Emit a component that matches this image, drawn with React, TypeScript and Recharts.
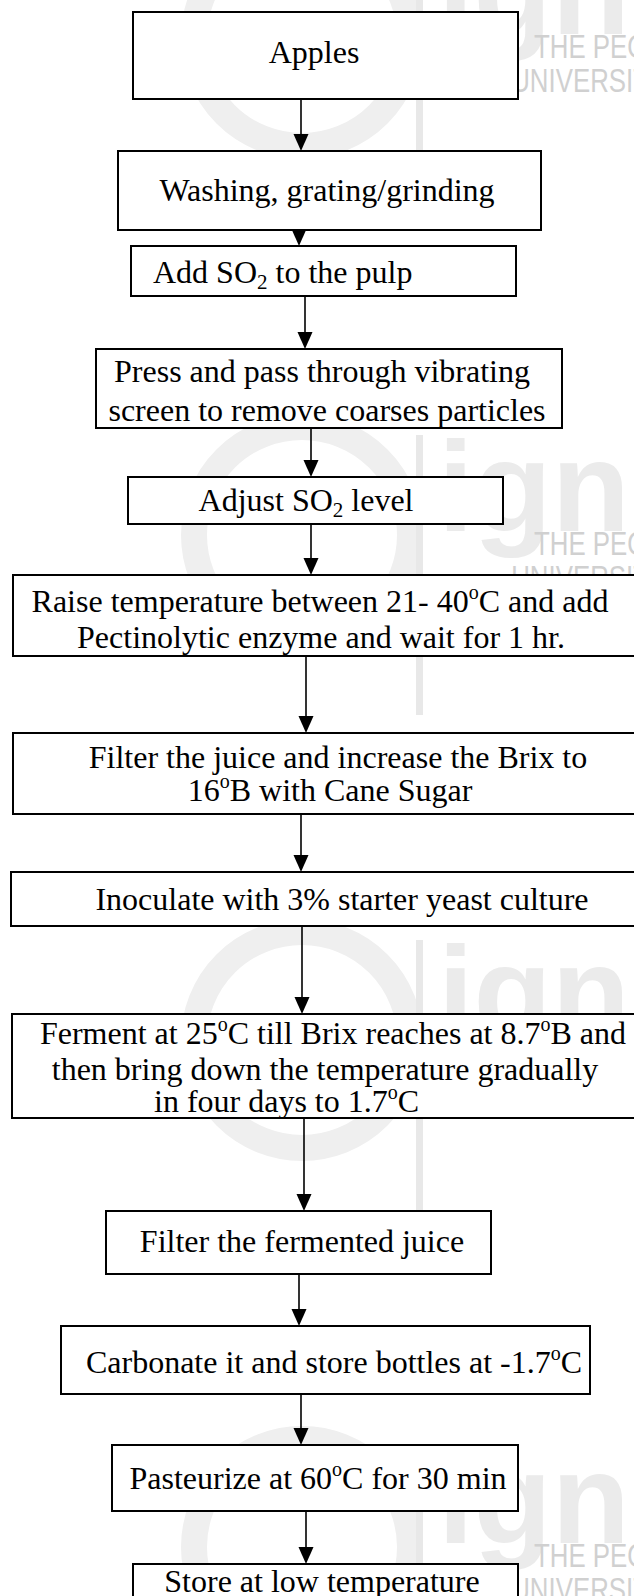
import React from 'react';
import { ScatterChart, XAxis, YAxis, ReferenceArea, ReferenceLine, Scatter } from 'recharts';

const CHART_W = 634;
const CHART_H = 1596;

// Flow-chart boxes (diagram units, same as the axis domains)
const boxNames = ['Apples', 'Washing', 'Add SO2', 'Press', 'Adjust SO2', 'Raise temp', 'Filter juice', 'Inoculate', 'Ferment', 'Filter fermented', 'Carbonate', 'Pasteurize', 'Store'];
const boxLeft = [133, 118, 131, 96, 128, 13, 13, 11, 12, 106, 61, 112, 133];
const boxRight = [518, 541, 516, 562, 503, 700, 700, 700, 700, 491, 590, 518, 518];
const boxTop = [12, 151, 246, 349, 477, 575, 733, 872, 1014, 1211, 1326, 1445, 1564];
const boxBottom = [99, 230, 296, 428, 524, 656, 814, 926, 1118, 1274, 1394, 1511, 1660];

// Arrows: from the bottom of box i to the top of box i+1
const arrowX = [301, 299, 305, 311, 311, 306, 301, 302, 304, 299, 301, 306];

// Text lines ("^o" = superscript o, "_2" = subscript 2)
const textLines = [
  'Apples',
  'Washing, grating/grinding',
  'Add SO_2 to the pulp',
  'Press and pass through vibrating',
  'screen to remove coarses particles',
  'Adjust SO_2 level',
  'Raise temperature between 21- 40^oC and add',
  'Pectinolytic enzyme and wait for 1 hr.',
  'Filter the juice and increase the Brix to',
  '16^oB with Cane Sugar',
  'Inoculate with 3% starter yeast culture',
  'Ferment at 25^oC till Brix reaches at 8.7^oB and',
  'then bring down the temperature gradually',
  'in four days to 1.7^oC',
  'Filter the fermented juice',
  'Carbonate it and store bottles at -1.7^oC',
  'Pasteurize at 60^oC for 30 min',
  'Store at low temperature',
];
const textX = [314, 327, 153, 322, 327, 306, 320, 321, 338, 330, 342, 333, 325, 154, 302, 334, 318, 322];
const textY = [63, 201, 283, 382, 421, 511, 612, 648, 768, 801, 910, 1044, 1080, 1112, 1252, 1373, 1489, 1592];
const textAnchor = ['middle', 'middle', 'start', 'middle', 'middle', 'middle', 'middle', 'middle', 'middle', 'middle', 'middle', 'middle', 'middle', 'start', 'middle', 'middle', 'middle', 'middle'];

// Watermark anchors (baseline of "THE PEOPLE'S")
const wmX = [534, 534, 534, 534];
const wmY = [58, 555, 1060, 1567];

const SERIF = "'Liberation Serif','Times New Roman',Times,serif";
const SANS = "'Liberation Sans',Arial,Helvetica,sans-serif";

function renderRich(s: string) {
  const parts = s.split(/(\^o|_2)/).filter((p) => p !== '');
  const out: React.ReactNode[] = [];
  let shift = 0;
  parts.forEach((p, i) => {
    if (p === '^o') {
      out.push(
        <tspan key={i} dy={-13 - shift} fontSize={20}>o</tspan>
      );
      shift = -13;
    } else if (p === '_2') {
      out.push(
        <tspan key={i} dy={6 - shift} fontSize={21}>2</tspan>
      );
      shift = 6;
    } else {
      out.push(
        <tspan key={i} dy={-shift}>{p}</tspan>
      );
      shift = 0;
    }
  });
  return out;
}

const TextShape = (props: any) => {
  const { cx, cy, payload } = props;
  if (cx == null || cy == null || isNaN(cx) || isNaN(cy)) return null;
  return (
    <text
      x={cx}
      y={cy}
      textAnchor={payload.anchor}
      fontFamily={SERIF}
      fontSize={32}
      fill="#000"
    >
      {renderRich(payload.label)}
    </text>
  );
};

const ArrowShape = (props: any) => {
  const { x1, y1, x2, y2 } = props;
  if (x1 == null) return null;
  const hw = 7.5;
  const hh = 17;
  return (
    <g>
      <line x1={x1} y1={y1} x2={x2} y2={y2 - hh + 2} stroke="#000" strokeWidth={1.6} />
      <polygon points={`${x2 - hw},${y2 - hh} ${x2 + hw},${y2 - hh} ${x2},${y2}`} fill="#000" />
    </g>
  );
};

const WatermarkShape = (props: any) => {
  const { cx, cy } = props;
  if (cx == null || cy == null) return null;
  const sx = `translate(${cx},0) scale(0.76,1) translate(${-cx},0)`;
  return (
    <g>
      <circle cx={cx - 232} cy={cy - 20} r={108} fill="none" stroke="#efefef" strokeWidth={26} />
      <rect x={cx - 118} y={cy - 120} width={7} height={280} fill="#e8e8e8" />
      <text x={cx - 96} y={cy - 24} fontFamily={SANS} fontWeight="bold" fontSize={128} fill="#ebebeb">
        ignou
      </text>
      <text x={cx} y={cy} fontFamily={SANS} fontSize={34} fill="#d0d0d0" transform={sx}>
        THE PEOPLE'S
      </text>
      <text x={cx - 30} y={cy + 34} fontFamily={SANS} fontSize={34} fill="#d0d0d0" transform={sx}>
        UNIVERSITY
      </text>
    </g>
  );
};

const textData = textLines.map((label, i) => ({ x: textX[i], y: textY[i], label, anchor: textAnchor[i] }));
const wmData = wmX.map((x, i) => ({ x, y: wmY[i] }));

export default function App() {
  return (
    <div style={{ position: 'absolute', left: 0, top: 0, width: CHART_W, height: CHART_H, overflow: 'hidden', background: '#fff' }}>
      <div style={{ position: 'absolute', left: 0, top: 0 }}>
        <ScatterChart width={CHART_W} height={CHART_H} margin={{ top: 0, right: 0, bottom: 0, left: 0 }}>
          <XAxis type="number" dataKey="x" domain={[0, CHART_W]} allowDataOverflow hide />
          <YAxis type="number" dataKey="y" domain={[0, CHART_H]} reversed allowDataOverflow hide />
          <Scatter data={wmData} shape={WatermarkShape} isAnimationActive={false} />
        </ScatterChart>
      </div>
      <div style={{ position: 'absolute', left: 0, top: 0 }}>
        <ScatterChart width={CHART_W} height={CHART_H} margin={{ top: 0, right: 0, bottom: 0, left: 0 }}>
          <XAxis type="number" dataKey="x" domain={[0, CHART_W]} allowDataOverflow hide />
          <YAxis type="number" dataKey="y" domain={[0, CHART_H]} reversed allowDataOverflow hide />
          {boxNames.map((name, i) => (
            <ReferenceArea
              key={name}
              x1={boxLeft[i]}
              x2={boxRight[i]}
              y1={boxTop[i]}
              y2={boxBottom[i]}
              ifOverflow="visible"
              fill="#ffffff"
              fillOpacity={1}
              stroke="#000"
              strokeWidth={2}
            />
          ))}
          {arrowX.map((x, i) => (
            <ReferenceLine
              key={`a${i}`}
              segment={[{ x, y: boxBottom[i] }, { x, y: boxTop[i + 1] }]}
              ifOverflow="visible"
              shape={ArrowShape}
            />
          ))}
          <Scatter data={textData} shape={TextShape} isAnimationActive={false} />
        </ScatterChart>
      </div>
    </div>
  );
}
